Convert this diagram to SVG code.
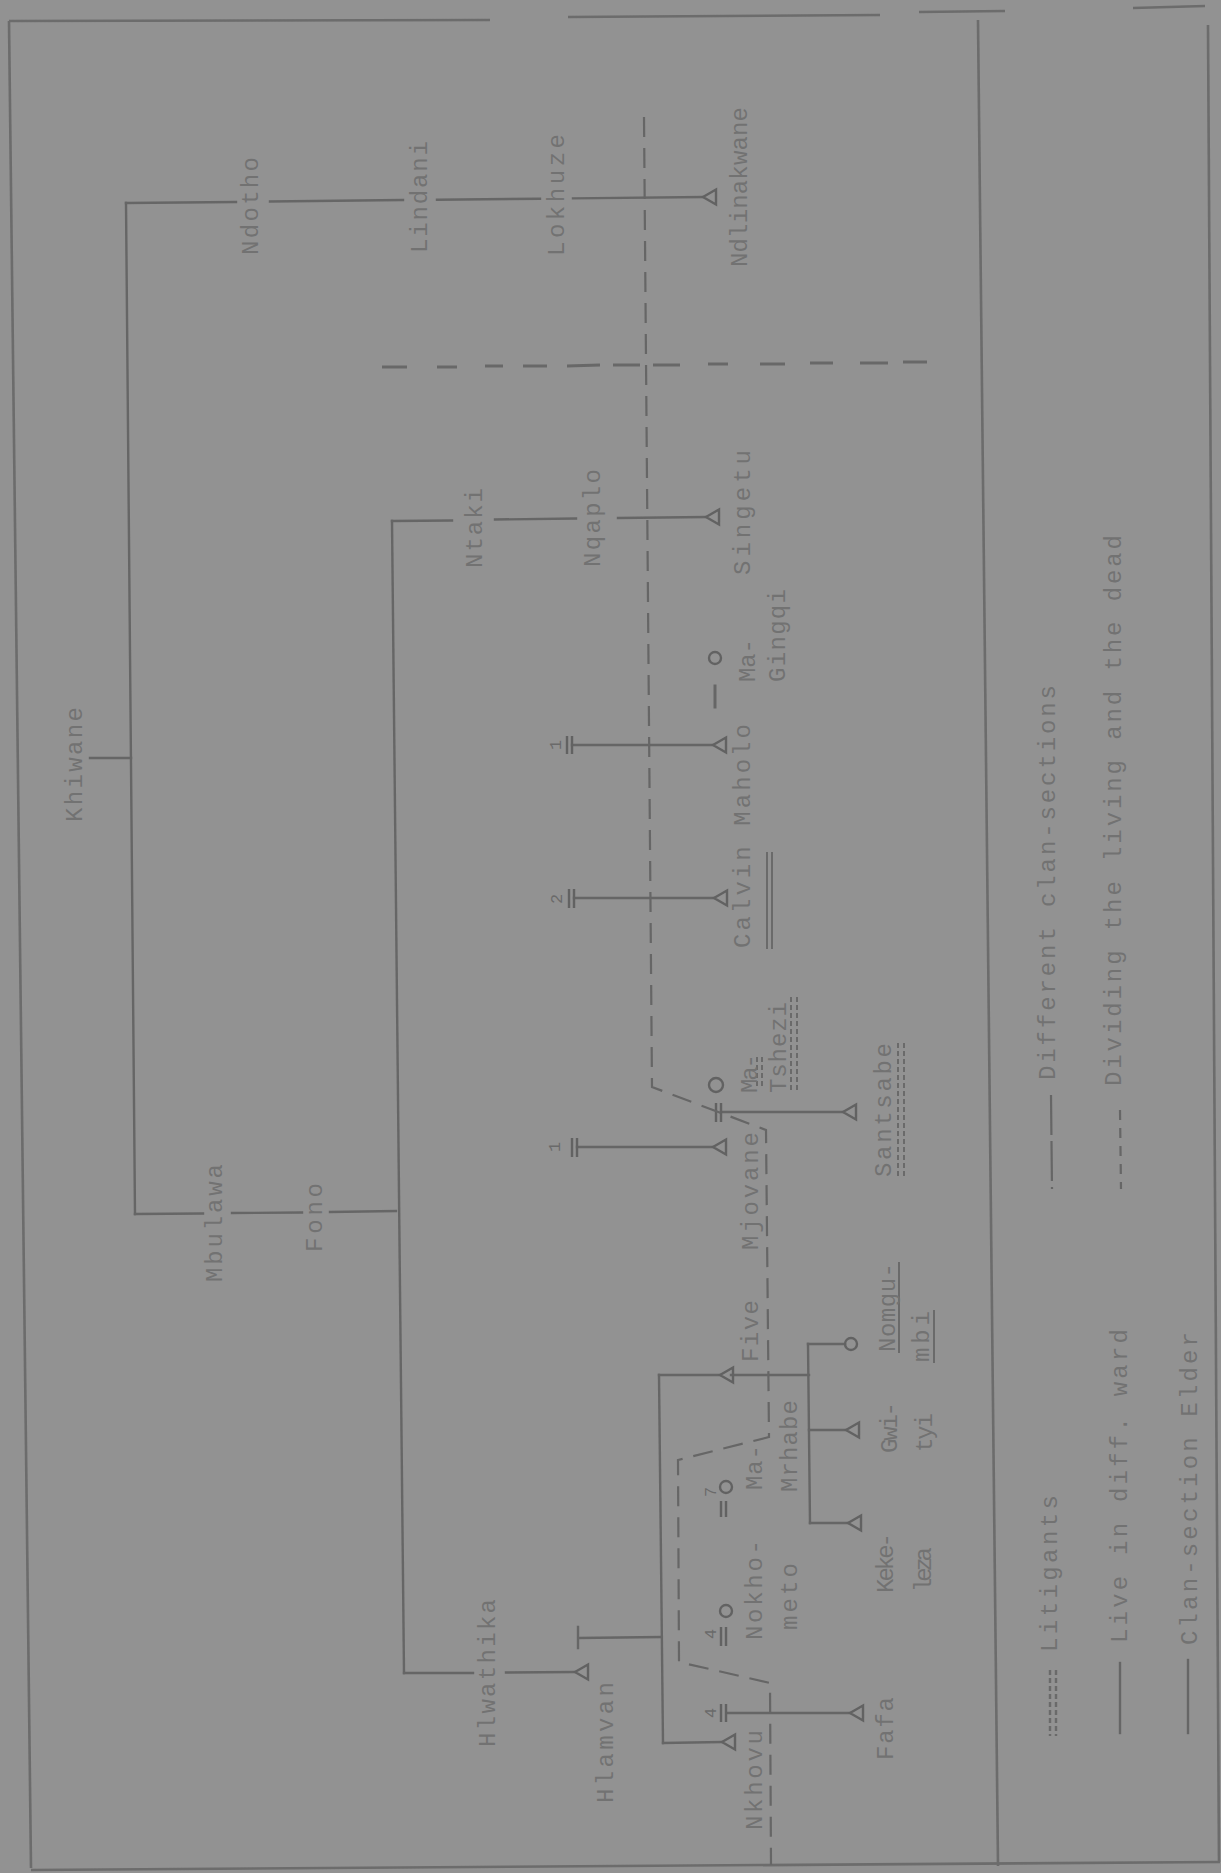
<svg xmlns="http://www.w3.org/2000/svg" width="1221" height="1873" viewBox="0 0 1221 1873">
<style>
.t{font-family:"Liberation Mono","DejaVu Sans Mono",monospace;font-size:24px;fill:#727272}
.n{font-family:"Liberation Mono","DejaVu Sans Mono",monospace;font-size:17px;fill:#6a6a6a;text-anchor:middle}
.ln{stroke:#666;stroke-width:2.4;fill:none;stroke-linecap:square}
.fr{stroke:#6c6c6c;stroke-width:2.6;fill:none}
.dl{stroke:#666;stroke-width:2.2;fill:none;stroke-dasharray:20 11}
.cs{stroke:#686868;stroke-width:3;fill:none}
.lit{stroke:#6a6a6a;stroke-width:2;fill:none;stroke-dasharray:5 3}
.sym{stroke:#626262;stroke-width:2.4;fill:none}
</style>
<defs>
<path id="male" d="M0 0 L13 -7.5 L13 7.5 Z"/>
</defs>
<rect x="0" y="0" width="1221" height="1873" fill="#929292"/>

<g id="frame">
<path class="fr" d="M9 21 L490 20 M568 17 L880 15 M919 12 L1005 11 M1133 8 L1205 6"/>
<path class="fr" d="M9 21 L31 1868"/>
<path class="fr" d="M31 1870 L1220 1862"/>
<path class="fr" d="M1208 25 L1219 1862"/>
<path class="fr" d="M978 20 L998 1866"/>
</g>

<g id="connectors">
<path class="ln" d="M90 758 L131 758"/>
<path class="ln" d="M126 203 L135 1214"/>
<path class="ln" d="M126 203 L236 202 M270 201.5 L403 200 M437 199.8 L540 198.7 M573 198.4 L703 197"/>
<path class="ln" d="M135 1214 L203 1213.5 M232 1213 L302 1212.5 M330 1212 L396 1211"/>
<path class="ln" d="M392 521 L404 1673"/>
<path class="ln" d="M392 521 L452 520.5 M495 519.5 L576 518.5 M618 518 L706 517"/>
<path class="ln" d="M404 1673 L473 1673 M506 1672.5 L575 1672"/>
<path class="ln" d="M578 1627 L578 1648 M578 1638 L661 1637"/>
<path class="ln" d="M659 1375 L663 1743"/>
<path class="ln" d="M659 1375 L720 1375"/>
<path class="ln" d="M663 1743 L722 1742"/>
<path class="ln" d="M731 1375 L809 1375 M808 1344 L810 1523"/>
<path class="ln" d="M808 1344 L845 1344 M809 1430 L846 1430 M810 1523 L848 1523"/>
<path class="ln" d="M727 1713 L850 1713"/>
<path class="ln" d="M572 745 L713 745"/>
<path class="ln" d="M574 898 L714 898"/>
<path class="ln" d="M577 1147 L713 1147"/>
<path class="ln" d="M721 1112 L843 1112"/>
<path class="sym" d="M567 736 L567 754 M572 736 L572 754"/>
<path class="sym" d="M569 889 L569 908 M574 889 L574 908"/>
<path class="sym" d="M572 1138 L572 1157 M577 1138 L577 1157"/>
<path class="sym" d="M716 1103 L716 1122 M721 1103 L721 1122"/>
<path class="sym" d="M721 1501 L721 1517 M726 1501 L726 1517"/>
<path class="sym" d="M721 1627 L721 1646 M726 1627 L726 1646"/>
<path class="sym" d="M721 1704 L721 1722 M726 1704 L726 1722"/>
<path class="ln" style="stroke-width:3" d="M715 686 L715 707"/>
<path class="dl" d="M644 117 L652 1087 L766 1130 L769 1437 L678 1460 L679 1662 L770 1683 L771 1865"/>
<path class="cs" d="M382 367 L407 367 M437 367 L457 367 M485 366 L503 366 M523 366 L547 366 M567 366 L600 365 M613 365 L640 365 M653 365 L680 365 M708 364 L728 364 M760 364 L785 364 M810 363 L833 363 M860 363 L888 363 M903 362 L927 362"/>
<path class="ln" style="stroke-width:1.8" d="M767 853 L767 948 M772 853 L772 948"/>
<path class="ln" style="stroke-width:1.8" d="M899 1263 L899 1352 M934 1311 L934 1362"/>
<path class="lit" d="M757 1057 L757 1088 M762 1057 L762 1088"/>
<path class="lit" d="M791 997 L791 1092 M797 997 L797 1092"/>
<path class="lit" d="M898 1043 L898 1177 M904 1043 L904 1177"/>
</g>

<g id="n-khiwane"><text class="t" transform="translate(82,822) rotate(-90)" textLength="115" lengthAdjust="spacing">Khiwane</text></g>
<g id="n-ndotho"><text class="t" transform="translate(258,255) rotate(-90)" textLength="98" lengthAdjust="spacing">Ndotho</text></g>
<g id="n-lindani"><text class="t" transform="translate(427,253) rotate(-90)" textLength="112" lengthAdjust="spacing">Lindani</text></g>
<g id="n-lokhuze"><text class="t" transform="translate(564,256) rotate(-90)" textLength="122" lengthAdjust="spacing">Lokhuze</text></g>
<g id="n-ndlinakwane"><use href="#male" x="703" y="197" class="sym"/><text class="t" transform="translate(747,267) rotate(-90)" textLength="160" lengthAdjust="spacing">Ndlinakwane</text></g>
<g id="n-mbulawa"><text class="t" transform="translate(222,1282) rotate(-90)" textLength="118" lengthAdjust="spacing">Mbulawa</text></g>
<g id="n-fono"><text class="t" transform="translate(322,1252) rotate(-90)" textLength="69" lengthAdjust="spacing">Fono</text></g>
<g id="n-ntaki"><text class="t" transform="translate(482,568) rotate(-90)" textLength="80" lengthAdjust="spacing">Ntaki</text></g>
<g id="n-nqaplo"><text class="t" transform="translate(600,567) rotate(-90)" textLength="98" lengthAdjust="spacing">Nqaplo</text></g>
<g id="n-singetu"><use href="#male" x="706" y="517" class="sym"/><text class="t" transform="translate(750,575) rotate(-90)" textLength="125" lengthAdjust="spacing">Singetu</text></g>
<g id="n-magingqi"><circle cx="715" cy="658" r="6" class="sym"/><text class="t" transform="translate(755,682) rotate(-90)" textLength="43" lengthAdjust="spacing">Ma-</text><text class="t" transform="translate(785,682) rotate(-90)" textLength="93" lengthAdjust="spacing">Gingqi</text></g>
<g id="n-maholo"><use href="#male" x="713" y="745" class="sym"/><text class="n" transform="translate(561,745) rotate(-90)">1</text></g>
<g id="n-calvin"><use href="#male" x="714" y="898" class="sym"/><text class="n" transform="translate(562,899) rotate(-90)">2</text><text class="t" transform="translate(750,948) rotate(-90)" textLength="224" lengthAdjust="spacing">Calvin Maholo</text></g>
<g id="n-matshezi"><circle cx="716" cy="1085" r="7" class="sym"/><text class="t" transform="translate(757,1093) rotate(-90)" textLength="39" lengthAdjust="spacing">Ma-</text><text class="t" transform="translate(786,1093) rotate(-90)" textLength="91" lengthAdjust="spacing">Tshezi</text></g>
<g id="n-mjovane"><use href="#male" x="713" y="1147" class="sym"/><text class="n" transform="translate(560,1147) rotate(-90)">1</text><text class="t" transform="translate(758,1250) rotate(-90)" textLength="118" lengthAdjust="spacing">Mjovane</text></g>
<g id="n-santsabe"><use href="#male" x="843" y="1112" class="sym"/><text class="t" transform="translate(891,1177) rotate(-90)" textLength="134" lengthAdjust="spacing">Santsabe</text></g>
<g id="n-hlwathika"><text class="t" transform="translate(495,1747) rotate(-90)" textLength="148" lengthAdjust="spacing">Hlwathika</text></g>
<g id="n-hlamvan"><use href="#male" x="575" y="1672" class="sym"/><text class="t" transform="translate(613,1803) rotate(-90)" textLength="121" lengthAdjust="spacing">Hlamvan</text></g>
<g id="n-five"><use href="#male" x="720" y="1375" class="sym"/><text class="t" transform="translate(758,1362) rotate(-90)" textLength="62" lengthAdjust="spacing">Five</text></g>
<g id="n-mamrhabe"><circle cx="726" cy="1487" r="6" class="sym"/><text class="n" transform="translate(716,1492) rotate(-90)">7</text><text class="t" transform="translate(762,1490) rotate(-90)" textLength="45" lengthAdjust="spacing">Ma-</text><text class="t" transform="translate(797,1492) rotate(-90)" textLength="92" lengthAdjust="spacing">Mrhabe</text></g>
<g id="n-nokhometo"><circle cx="726" cy="1611" r="6" class="sym"/><text class="n" transform="translate(716,1634) rotate(-90)">4</text><text class="t" transform="translate(762,1640) rotate(-90)" textLength="100" lengthAdjust="spacing">Nokho-</text><text class="t" transform="translate(797,1630) rotate(-90)" textLength="67" lengthAdjust="spacing">meto</text></g>
<g id="n-nkhovu"><use href="#male" x="722" y="1742" class="sym"/><text class="n" transform="translate(716,1713) rotate(-90)">4</text><text class="t" transform="translate(762,1830) rotate(-90)" textLength="100" lengthAdjust="spacing">Nkhovu</text></g>
<g id="n-fafa"><use href="#male" x="850" y="1713" class="sym"/><text class="t" transform="translate(893,1760) rotate(-90)" textLength="63" lengthAdjust="spacing">Fafa</text></g>
<g id="n-nomgumbi"><circle cx="851" cy="1344" r="6" class="sym"/><text class="t" transform="translate(895,1352) rotate(-90)" textLength="89" lengthAdjust="spacing">Nomgu-</text><text class="t" transform="translate(929,1362) rotate(-90)" textLength="51" lengthAdjust="spacing">mbi</text></g>
<g id="n-gwityi"><use href="#male" x="846" y="1430" class="sym"/><text class="t" transform="translate(897,1453) rotate(-90)" textLength="51" lengthAdjust="spacing">Gwi-</text><text class="t" transform="translate(932,1452) rotate(-90)" textLength="39" lengthAdjust="spacing">tyi</text></g>
<g id="n-kekeleza"><use href="#male" x="848" y="1523" class="sym"/><text class="t" transform="translate(893,1593) rotate(-90)" textLength="60" lengthAdjust="spacing">Keke-</text><text class="t" transform="translate(931,1592) rotate(-90)" textLength="45" lengthAdjust="spacing">leza</text></g>

<g id="legend">
<path class="dl" style="stroke-dasharray:40 6" d="M1051 1095 L1052 1189"/>
<text class="t" transform="translate(1055,1080) rotate(-90)" textLength="395" lengthAdjust="spacing">Different clan-sections</text>
<path class="dl" style="stroke-dasharray:10 8" d="M1120 1110 L1121 1189"/>
<text class="t" transform="translate(1121,1086) rotate(-90)" textLength="551" lengthAdjust="spacing">Dividing the living and the dead</text>
<path class="lit" style="stroke-width:2.4" d="M1050 1670 L1050 1736 M1056 1670 L1056 1736"/>
<text class="t" transform="translate(1057,1652) rotate(-90)" textLength="157" lengthAdjust="spacing">Litigants</text>
<path class="ln" d="M1120 1663 L1120 1733"/>
<text class="t" transform="translate(1127,1643) rotate(-90)" textLength="314" lengthAdjust="spacing">Live in diff. ward</text>
<path class="ln" d="M1188 1660 L1188 1733"/>
<text class="t" transform="translate(1197,1645) rotate(-90)" textLength="313" lengthAdjust="spacing">Clan-section Elder</text>
</g>
</svg>
